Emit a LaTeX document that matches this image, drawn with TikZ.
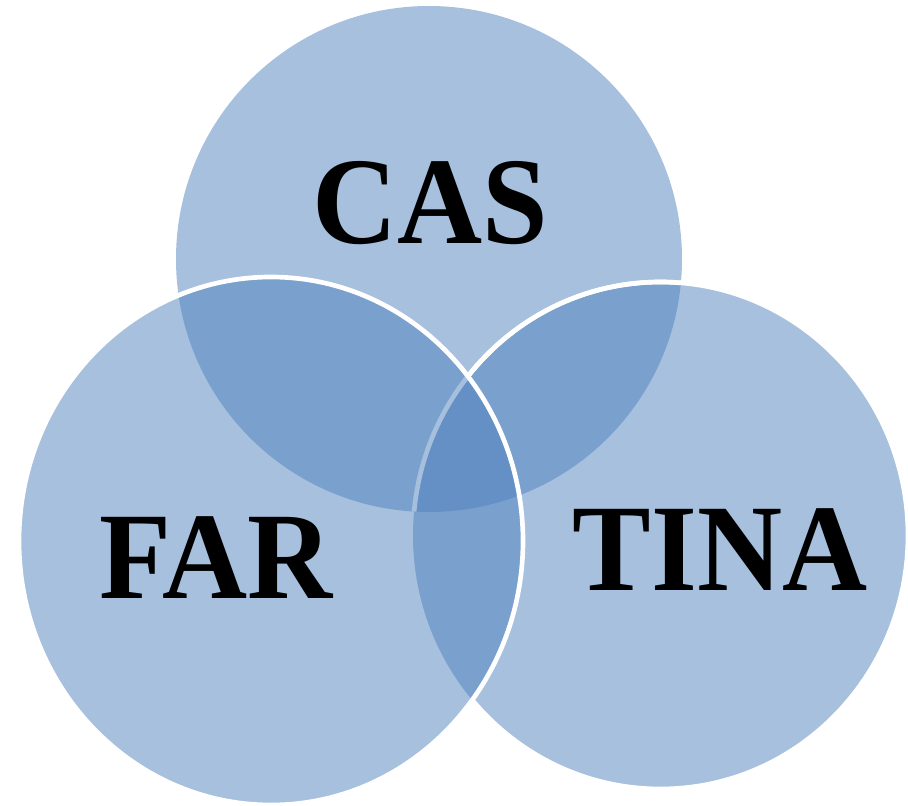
\documentclass[tikz,border=0pt]{standalone}
\usepackage{fontspec}
\setmainfont{Liberation Serif}
\definecolor{vennblue}{HTML}{4F81BD}
\begin{document}
\begin{tikzpicture}[x=0.75pt,y=-0.75pt,
  setfill/.style={fill=vennblue,fill opacity=0.5,draw=none},
  setline/.style={draw=white,line width=3.5pt},
  setlabel/.style={anchor=base,inner sep=0pt,xscale=0.95,text=black,
    font=\fontsize{93}{100}\selectfont\bfseries}]
\useasboundingbox (0,0) rectangle (908,806);
% CAS
\path[setfill] (429,259) ellipse [x radius=253,y radius=253];
% TINA
\path[setfill] (660.5,535.5) ellipse [x radius=247.5,y radius=253.5];
\begin{scope}
  \clip (429,259) ellipse [x radius=253,y radius=253];
  \path[setline] (660.5,535.5) ellipse [x radius=247.5,y radius=253.5];
\end{scope}
\begin{scope}[even odd rule]
  \clip (-10,-10) rectangle (920,820) (271,541) ellipse [x radius=252,y radius=264];
  \path[setline] (660.5,535.5) ellipse [x radius=247.5,y radius=253.5];
\end{scope}
% FAR
\path[setfill] (271,541) ellipse [x radius=252,y radius=264];
\path[setline] (271,541) ellipse [x radius=252,y radius=264];
% labels
\node[setlabel] (cas) at (430,244) {CAS};
\node[setlabel] (far) at (216,598) {FAR};
\node[setlabel] (tina) at (720,590) {TINA};
\end{tikzpicture}
\end{document}
